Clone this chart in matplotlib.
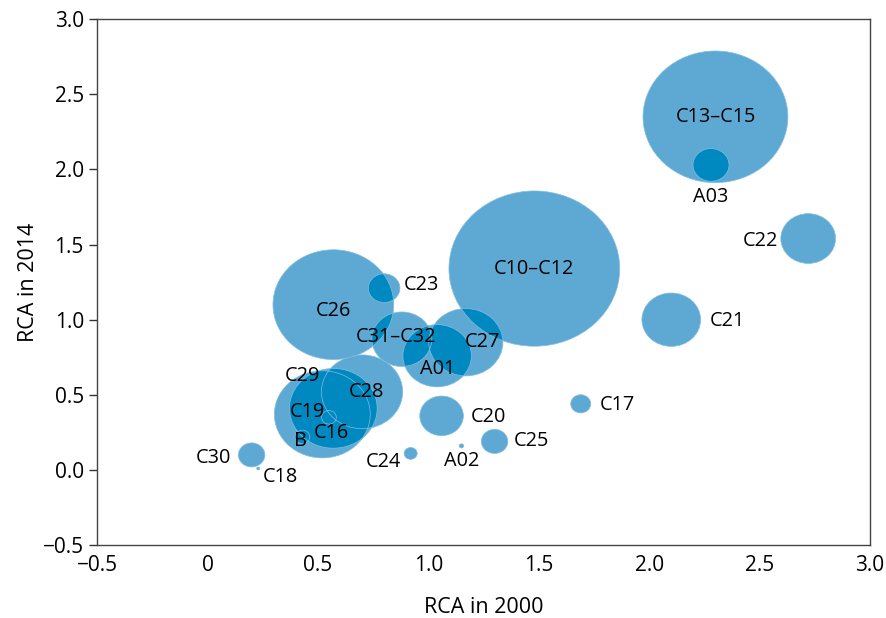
"""
rca_bubbles.py
--------------
Revealed comparative advantage, 2000 vs 2014, by sector.
Bubble area follows each sector's export share.
"""

import numpy as np
import matplotlib
matplotlib.use('Agg')
import matplotlib.pyplot as plt
from matplotlib.patches import Ellipse

plt.rcParams['font.family'] = ['Open Sans', 'DejaVu Sans']

sectors = ["C10\u2013C12", "C13\u2013C15", "A03", "C22", "C21", "C17",
           "C26", "C23", "C31\u2013C32", "C27", "A01", "C28",
           "C19", "C29", "C16", "B", "C20", "C25", "C24", "A02",
           "C30", "C18"]
rca_2000 = [1.48, 2.30, 2.28, 2.72, 2.10, 1.69,
            0.57, 0.80, 0.88, 1.17, 1.04, 0.70,
            0.52, 0.57, 0.55, 0.43, 1.06, 1.30, 0.92, 1.15,
            0.20, 0.23]
rca_2014 = [1.34, 2.35, 2.03, 1.54, 1.00, 0.44,
            1.10, 1.21, 0.87, 0.85, 0.76, 0.52,
            0.37, 0.41, 0.35, 0.22, 0.36, 0.19, 0.11, 0.16,
            0.10, 0.01]
export_share = [29.2, 21.0, 1.3, 3.0, 3.45, 0.4,
                14.6, 1.0, 3.6, 5.5, 4.7, 6.6,
                9.2, 7.7, 0.22, 0.22, 1.9, 0.7, 0.17, 0.02,
                0.7, 0.01]

x_ticks = [-0.5, 0, 0.5, 1.0, 1.5, 2.0, 2.5, 3.0]
x_tick_labels = ["\u22120.5", "0", "0.5", "1.0", "1.5", "2.0", "2.5", "3.0"]
y_ticks = [-0.5, 0.0, 0.5, 1.0, 1.5, 2.0, 2.5, 3.0]
y_tick_labels = ["\u22120.5", "0.0", "0.5", "1.0", "1.5", "2.0", "2.5", "3.0"]

# label offsets in pixels from the bubble centre
label_offsets = {
    "A03": (0, -32), "C22": (-48, -2), "C21": (56, -1), "C17": (37, -1),
    "C26": (0, -6), "C23": (37, 3), "C31\u2013C32": (-6, 2), "C27": (17, 0),
    "A01": (0, -13), "C28": (4, 0), "C19": (-15, 2), "C29": (-31, 32),
    "C16": (2, -16), "B": (-2, -4), "C20": (47, -1), "C25": (37, 0),
    "C24": (-27, -9), "A02": (0, -15), "C30": (-38, -3), "C18": (22, -9),
}

LIGHT = "#5ea9d3"
DARK = "#0089c0"
EDGE = "#80bde0"
PX_PER_SQRT_SHARE = 31.6
ASPECT = 1.1

fig = plt.figure(figsize=(8.86, 6.18), dpi=100)
ax = fig.add_axes([0.1095, 0.118, 0.8725, 0.851])
ax.set_xlim(-0.5, 3.0)
ax.set_ylim(-0.5, 3.0)

# pixels per data unit on each axis
o = ax.transData.transform((0, 0))
ppu_x = ax.transData.transform((1, 0))[0] - o[0]
ppu_y = ax.transData.transform((0, 1))[1] - o[1]


def make_ellipse(i, **kw):
    w_px = PX_PER_SQRT_SHARE * np.sqrt(export_share[i])
    return Ellipse((rca_2000[i], rca_2014[i]), w_px / ppu_x,
                   w_px / ASPECT / ppu_y, transform=ax.transData, **kw)


n = len(sectors)
base = []
for i in range(n):
    e = make_ellipse(i, facecolor=LIGHT, edgecolor="none", zorder=2)
    ax.add_patch(e)
    base.append(e)

# overlapping areas are drawn in the darker shade
for i in range(n):
    for j in range(i + 1, n):
        e = make_ellipse(j, facecolor=DARK, edgecolor="none", zorder=3)
        e.set_clip_path(base[i])
        ax.add_patch(e)

for i in range(n):
    ax.add_patch(make_ellipse(i, facecolor="none", edgecolor=EDGE,
                              linewidth=0.5, zorder=4))

for i, name in enumerate(sectors):
    dx, dy = label_offsets.get(name, (0, 0))
    ax.annotate(name, xy=(rca_2000[i], rca_2014[i]), xytext=(dx, dy),
                textcoords="offset pixels", ha="center", va="center",
                fontsize=14.3, color="black", zorder=5)

ax.set_xticks(x_ticks)
ax.set_xticklabels(x_tick_labels)
ax.set_yticks(y_ticks)
ax.set_yticklabels(y_tick_labels)
ax.tick_params(axis="x", length=0, pad=7, labelsize=15)
ax.tick_params(axis="y", length=6, width=1, color="#333333", labelsize=15)
for s in ax.spines.values():
    s.set_color("#444444")
    s.set_linewidth(1.0)

ax.set_xlabel("RCA in 2000", fontsize=15.5, labelpad=15)
ax.set_ylabel("RCA in 2014", fontsize=15.5, labelpad=3)

fig.savefig("out.png", dpi=100)
